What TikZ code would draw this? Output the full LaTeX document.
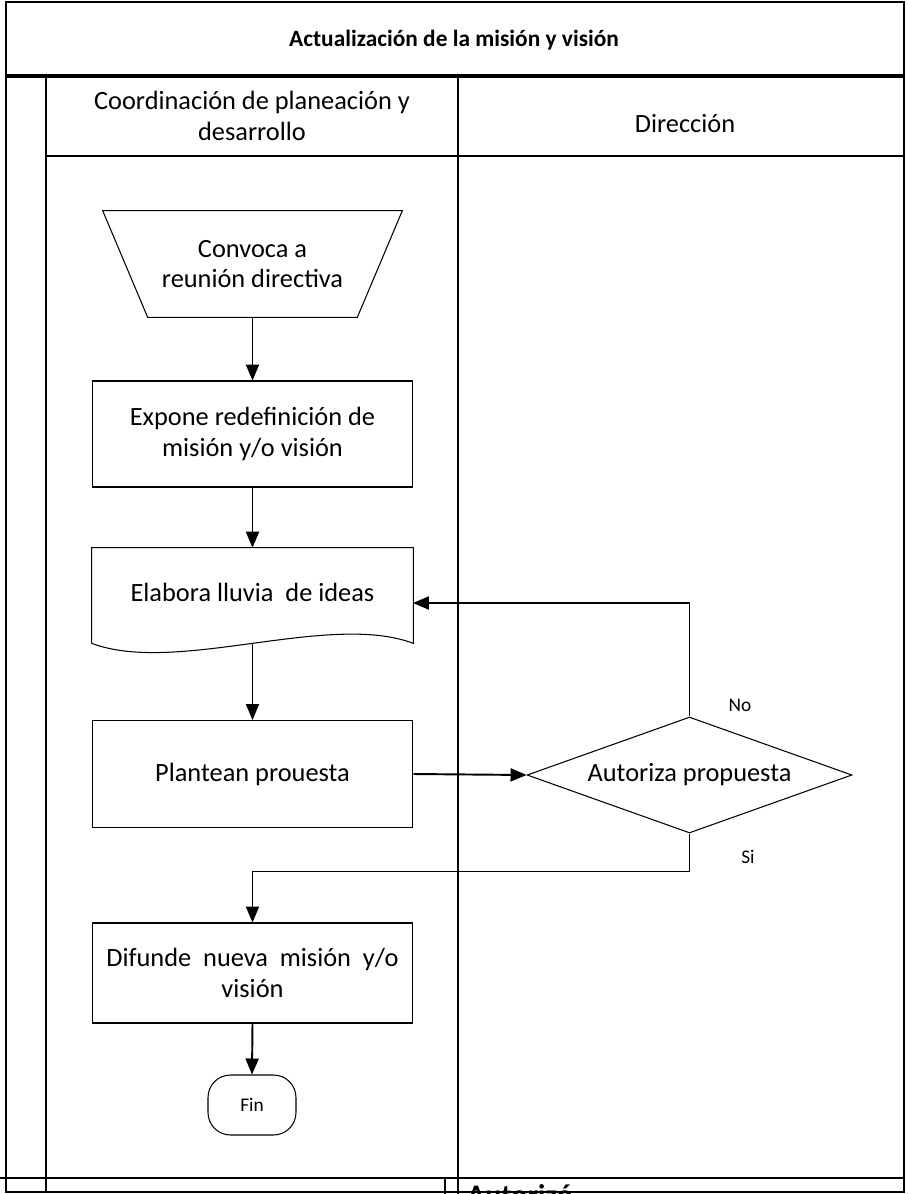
\documentclass[tikz,border=0pt]{standalone}
\usepackage{fontspec}
\setmainfont{Carlito}
\usetikzlibrary{calc, shapes.geometric, positioning, arrows}

\begin{document}
\begin{tikzpicture}[x=0.02cm, y=-0.02cm,
  texto/.style={font=\fontsize{15}{17.5}\selectfont, align=center},
  caja/.style={texto, draw, line width=0.6pt, minimum width=6.42cm, inner sep=0pt},
  flecha/.style={-triangle 45, line width=1.1pt},
  etiq/.style={font=\fontsize{11}{13}\selectfont}]
\useasboundingbox (0,0) rectangle (907,1194);
\clip (0,0) rectangle (907,1194);
% marco y carriles
\draw[line width=0.8pt] (6,2) rectangle (904,1192);
\draw[line width=1.8pt] (6,76) -- (904,76);
\draw[line width=0.8pt] (46,76) -- (46,1192);
\draw[line width=0.6pt] (46,156) -- (904,156);
\draw[line width=1.5pt] (458,76) -- (458,1194);
\draw[line width=0.6pt] (0,1178) -- (904,1178);
\draw[line width=0.6pt] (445,1178) -- (445,1194);
\node[font=\bfseries\fontsize{13.3}{15}\selectfont] (titulo) at (454,40) {Actualización de la misión y visión};
\node[texto] (carrilA) at (252,116) {Coordinación de planeación y\\desarrollo};
\node[texto] (carrilB) at (685,124) {Dirección};
\node[font=\bfseries\fontsize{17}{20}\selectfont, anchor=base west] (autorizo) at (461,1205) {Autorizó};
% figuras
\node[texto, minimum width=5.98cm, minimum height=2.12cm, inner sep=0pt] (convoca) at (252.5,264)
  {Convoca a\\reunión directiva};
\draw[line width=0.6pt] (convoca.north west) -- (convoca.north east) -- ($(convoca.south east)+(-45,0)$)
  -- ($(convoca.south west)+(45,0)$) -- cycle;
\node[caja, minimum height=2.12cm] (expone) at (252.5,434) {Expone redefinición de\\misión y/o visión};
\node[texto, minimum width=6.42cm, minimum height=1.9cm, inner sep=0pt] (lluvia) at (252.5,595.5) {};
\node[texto] at (252.5,592) {Elabora lluvia \ de ideas};
\draw[line width=0.6pt] (lluvia.south west) -- (lluvia.north west) -- (lluvia.north east) -- (lluvia.south east)
  .. controls ($(lluvia.south east)+(-85,-32)$) and ($(lluvia.south west)+(85,32)$) .. (lluvia.south west);
\coordinate (lluviaent) at (413,603);
\node[caja, minimum height=2.14cm] (plantean) at (252.5,774) {Plantean prouesta};
\node[texto, draw, line width=0.6pt, diamond, aspect=2.8, minimum width=6.5cm, minimum height=2.32cm, inner sep=0pt]
  (autoriza) at (689.5,775) {Autoriza propuesta};
\node[caja, minimum height=2cm] (difunde) at (252.5,973) {Difunde \ nueva \ misión \ y/o\\visión};
\node[draw, line width=0.6pt, rounded corners=0.45cm, minimum width=1.76cm, minimum height=1.2cm,
  etiq] (fin) at (252,1105) {Fin};
\node[etiq] (no) at (740,705) {No};
\node[etiq] (si) at (748,857) {Si};
% conectores
\draw[flecha] (convoca.south) -- (expone.north);
\draw[flecha] (expone.south) -- (lluvia.north);
\draw[flecha] (lluvia.south) -- (plantean.north);
\draw[flecha] (plantean.east) -- (autoriza.west);
\draw[flecha] (autoriza.north) |- (lluviaent);
\draw[flecha] (autoriza.south) -- ++(0,38) -| (difunde.north);
\draw[flecha] (difunde.south) -- (fin.north);
\end{tikzpicture}
\end{document}
